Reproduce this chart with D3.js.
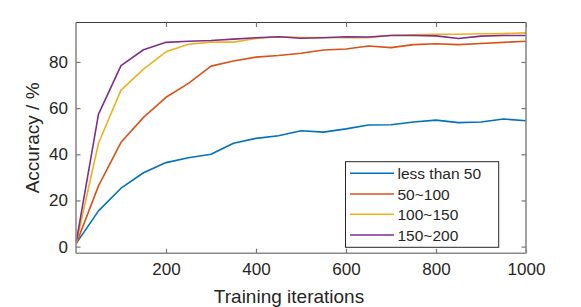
<!DOCTYPE html>
<html>
<head>
<meta charset="utf-8">
<script src="https://cdn.jsdelivr.net/npm/d3@7"></script>
<style>
  html, body { margin: 0; padding: 0; background: #fff; }
  svg { display: block; }
  text { font-family: "Liberation Sans", Arial, Helvetica, sans-serif; fill: #262626; }
</style>
</head>
<body>
<svg id="chart" width="581" height="307"></svg>
<script>
const iterations = [1, 50, 100, 150, 200, 250, 300, 350, 400, 450, 500, 550, 600, 650, 700, 750, 800, 850, 900, 950, 1000];
const seriesNames = ["less than 50", "50~100", "100~150", "150~200"];
const lessThan50 = [1.5, 15.5, 25.3, 32.0, 36.4, 38.5, 40.0, 44.8, 46.9, 48.0, 50.2, 49.6, 51.0, 52.7, 52.8, 54.0, 54.8, 53.7, 54.0, 55.3, 54.5];
const s50to100 = [1.5, 26.3, 45.2, 56.0, 64.7, 70.7, 78.2, 80.4, 82.1, 82.8, 83.8, 85.2, 85.6, 86.9, 86.2, 87.5, 87.9, 87.5, 88.0, 88.5, 89.0];
const s100to150 = [2.0, 44.8, 67.8, 76.9, 84.4, 87.7, 88.6, 88.6, 90.2, 90.9, 90.6, 90.6, 90.5, 90.5, 91.6, 91.8, 92.0, 92.0, 92.2, 92.3, 92.6];
const s150to200 = [2.5, 57.4, 78.4, 85.3, 88.5, 89.0, 89.3, 89.9, 90.5, 90.9, 90.3, 90.5, 90.9, 90.8, 91.5, 91.5, 91.3, 90.2, 91.2, 91.5, 91.5];
const xTicks = [200, 400, 600, 800, 1000];
const yTicks = [0, 20, 40, 60, 80];
const colors = ["#0072BD", "#D95319", "#EDB120", "#7E2F8E"];

const allSeries = [lessThan50, s50to100, s100to150, s150to200];

const svg = d3.select("#chart");
const L = 76, R = 526, T = 22.5, B = 253.3;

const x = d3.scaleLinear().domain([0, 1000]).range([L, R]);
const y = d3.scaleLinear().domain([-2.9, 97.1]).range([B, T]);

const g = svg.append("g");

// data lines
const line = d3.line().x((d, i) => x(iterations[i])).y(d => y(d));
allSeries.forEach((s, k) => {
  g.append("path")
    .attr("d", line(s))
    .attr("fill", "none")
    .attr("stroke", colors[k])
    .attr("stroke-width", 1.6)
    .attr("stroke-linejoin", "round");
});

// axes
const tickLen = 4.5;
const fmt = d3.format("d");
const axisBottom = d3.axisBottom(x).tickValues(xTicks).tickSize(-tickLen).tickPadding(10).tickFormat(fmt);
const axisTop = d3.axisTop(x).tickValues(xTicks).tickSize(-tickLen).tickFormat("");
const axisLeft = d3.axisLeft(y).tickValues(yTicks).tickSize(-tickLen).tickPadding(8).tickFormat(fmt);
const axisRight = d3.axisRight(y).tickValues(yTicks).tickSize(-tickLen).tickFormat("");

function style(sel, col, w) {
  sel.select(".domain").attr("stroke", col).attr("stroke-width", w);
  sel.selectAll(".tick line").attr("stroke", "#777").attr("stroke-width", 1.2);
  sel.selectAll(".tick text").attr("fill", "#262626").style("font-size", "17px")
     .style("font-family", '"Liberation Sans", Arial, sans-serif');
}

const gb = svg.append("g").attr("transform", `translate(0,${B})`).call(axisBottom);
gb.select(".domain").attr("d", `M${L},0H${R}`);
style(gb, "#8a8a8a", 1.6);
const gt = svg.append("g").attr("transform", `translate(0,${T})`).call(axisTop);
gt.select(".domain").attr("d", `M${L},0H${R}`);
style(gt, "#3a3a3a", 1.1);
const gl = svg.append("g").attr("transform", `translate(${L},0)`).call(axisLeft);
gl.select(".domain").attr("d", `M0,${B}V${T}`);
style(gl, "#8a8a8a", 1.6);
const gr = svg.append("g").attr("transform", `translate(${R},0)`).call(axisRight);
gr.select(".domain").attr("d", `M0,${B}V${T}`);
style(gr, "#8a8a8a", 1.6);

// axis labels
svg.append("text")
  .attr("x", (L + R) / 2 - 12).attr("y", 303)
  .attr("text-anchor", "middle")
  .style("font-size", "19px")
  .text("Training iterations");
svg.append("text")
  .attr("transform", `translate(39,${(T + B) / 2}) rotate(-90)`)
  .attr("text-anchor", "middle")
  .style("font-size", "19px")
  .text("Accuracy / %");

// legend
const lg = svg.append("g");
lg.append("rect")
  .attr("x", 345.5).attr("y", 161.7).attr("width", 153.2).attr("height", 85.6)
  .attr("fill", "#fff").attr("stroke", "#262626").attr("stroke-width", 1);
const rowY = [173.3, 194, 214.3, 235];
seriesNames.forEach((name, k) => {
  lg.append("line")
    .attr("x1", 350).attr("x2", 394)
    .attr("y1", rowY[k]).attr("y2", rowY[k])
    .attr("stroke", colors[k]).attr("stroke-width", 1.6);
  lg.append("text")
    .attr("x", 397.5).attr("y", rowY[k])
    .attr("dy", "0.36em")
    .style("font-size", "15.5px")
    .text(name);
});
</script>
</body>
</html>
